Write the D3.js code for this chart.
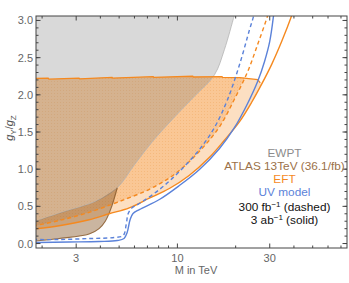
<!DOCTYPE html>
<html>
<head>
<meta charset="utf-8">
<script src="https://cdn.jsdelivr.net/npm/d3@7"></script>
<style>
body { margin: 0; background: #fff; }
svg { display: block; font-family: "Liberation Sans", Arial, sans-serif; }
</style>
</head>
<body>
<svg id="chart" width="349" height="283"></svg>
<script>
// values: M in TeV, g = gY/gZ
var ewptM = [1.8, 2.54, 3.8, 4.89, 6.0, 7.42, 9.65, 12.25, 15.55, 17.5, 19.7, 20.4];
var ewptG = [0.29, 0.42, 0.57, 0.75, 1.06, 1.37, 1.70, 1.98, 2.27, 2.61, 3.07, 3.2];

var atlasM = [1.8, 2.45, 3.5, 3.94, 4.24, 4.55, 4.89];
var atlasG = [0.03, 0.067, 0.128, 0.20, 0.30, 0.48, 0.75];

var eftTopM = [1.8, 2.15, 2.17, 3.1, 3.13, 4.6, 4.63, 7.5, 7.55, 12, 12.1, 17, 17.1, 21, 24, 26, 26.8];
var eftTopG = [2.22, 2.225, 2.21, 2.225, 2.215, 2.235, 2.225, 2.245, 2.235, 2.25, 2.24, 2.245, 2.235, 2.23, 2.215, 2.205, 2.16];

var eft3abM = [1.8, 2.45, 3.5, 4.44, 5.64, 7.16, 9.09, 11.5, 14.65, 17.5, 20.95, 24.2, 27.2, 30.7, 34.6, 39.0, 40.5];
var eft3abG = [0.195, 0.24, 0.32, 0.40, 0.48, 0.61, 0.74, 0.915, 1.16, 1.39, 1.64, 1.90, 2.14, 2.41, 2.72, 3.07, 3.2];

var eft300M = [1.8, 2.45, 3.5, 5.0, 7.16, 9.65, 13.0, 16.5, 19.7, 23.05, 26.0, 29.3, 30.2];
var eft300G = [0.235, 0.31, 0.42, 0.565, 0.73, 0.93, 1.24, 1.57, 1.94, 2.31, 2.68, 3.07, 3.2];

var uv300M = [1.8, 2.45, 3.5, 4.72, 5.25, 5.44, 5.57, 5.85, 6.36, 8.07, 10.24, 13.0, 15.55, 18.16, 20.95, 23.6, 24.8, 25.2];
var uv300G = [0.054, 0.054, 0.067, 0.081, 0.108, 0.256, 0.404, 0.484, 0.538, 0.726, 0.969, 1.265, 1.561, 1.937, 2.408, 2.879, 3.07, 3.2];

var uv3abM = [1.8, 2.76, 3.94, 4.89, 5.3, 5.5, 5.7, 5.9, 6.36, 8.07, 10.24, 13.0, 16.5, 19.74, 23.05, 25.97, 28.2, 30.0, 31.4, 31.8];
var uv3abG = [0.013, 0.02, 0.027, 0.04, 0.067, 0.148, 0.323, 0.404, 0.457, 0.592, 0.78, 0.996, 1.278, 1.561, 1.884, 2.179, 2.449, 2.718, 3.07, 3.2];

var xMajor = [3, 10, 30];
var xMinor = [2, 4, 5, 6, 7, 8, 9, 20, 40, 50, 60, 70];
var yMajor = [0, 0.5, 1, 1.5, 2, 2.5, 3];
var yMinor = d3.range(0, 3.01, 0.1);

var legendText = ['EWPT', 'ATLAS 13TeV (36.1/fb)', 'EFT', 'UV model'];
var legendColor = ['#8c8c8c', '#9b7148', '#f5891f', '#5b82d9'];

var L = 36, R = 347, T = 16, B = 248;
var orange = '#f5891f', blue = '#5b82d9', brown = '#8a5a2c';

var svg = d3.select('#chart');
var x = d3.scaleLog().domain([1.86, 75.2]).range([L, R]);
var y = d3.scaleLinear().domain([-0.06, 3.06]).range([B, T]);

function pts(ms, gs) { return ms.map((m, i) => [m, gs[i]]); }
var smooth = d3.line().x(d => x(d[0])).y(d => y(d[1])).curve(d3.curveCatmullRom.alpha(0.5));
var straight = d3.line().x(d => x(d[0])).y(d => y(d[1]));
function join(a, b) { return a + b.replace(/^M/, 'L'); }

var defs = svg.append('defs');
defs.append('clipPath').attr('id', 'plot')
    .append('rect').attr('x', L).attr('y', T).attr('width', R - L).attr('height', B - T);
var hatch = defs.append('pattern').attr('id', 'hatch').attr('patternUnits', 'userSpaceOnUse')
    .attr('width', 3).attr('height', 3);
hatch.append('rect').attr('x', 0).attr('y', 0).attr('width', 1).attr('height', 1)
    .attr('fill', '#e07a10').attr('fill-opacity', 0.18);

var g = svg.append('g').attr('clip-path', 'url(#plot)');

var eftTop = pts(eftTopM, eftTopG);
var ewpt = pts(ewptM, ewptG);
var atlas = pts(atlasM, atlasG);
var e3 = pts(eft3abM, eft3abG);
var e300 = pts(eft300M, eft300G);

// EFT 3 ab^-1 region: under top edge, above solid curve
var e3in = e3.filter(d => d[1] < 2.15).reverse();
g.append('path')
    .attr('d', join(straight(eftTop), smooth(e3in)) + 'Z')
    .attr('fill', orange).attr('fill-opacity', 0.27);

// EFT 300 fb^-1 region
var top300 = eftTop.filter(d => d[0] < 22);
var e300in = e300.filter(d => d[1] < 2.24).reverse();
var p300 = join(straight(top300), smooth([[22.3, 2.235]].concat(e300in))) + 'Z';
g.append('path').attr('d', p300).attr('fill', orange).attr('fill-opacity', 0.28);
g.append('path').attr('d', p300).attr('fill', 'url(#hatch)');

// EWPT excluded region
g.append('path')
    .attr('d', smooth(ewpt) + 'L' + x(20.4) + ',' + (T - 10) + 'L' + (L - 10) + ',' + (T - 10) + 'Z')
    .attr('fill', '#808080').attr('fill-opacity', 0.3);
g.append('path').attr('d', smooth(ewpt)).attr('fill', 'none')
    .attr('stroke', '#b4b4b4').attr('stroke-width', 0.8);

// ATLAS 13 TeV region, below EWPT edge
var ewptLow = ewpt.filter(d => d[0] <= 4.89).reverse();
g.append('path')
    .attr('d', join(smooth(atlas), smooth(ewptLow)) + 'Z')
    .attr('fill', brown).attr('fill-opacity', 0.45);
g.append('path').attr('d', smooth(atlas)).attr('fill', 'none')
    .attr('stroke', brown).attr('stroke-width', 1.1).attr('stroke-opacity', 0.85);

// contour lines
g.append('path').attr('d', straight(eftTop)).attr('fill', 'none')
    .attr('stroke', orange).attr('stroke-width', 1.3);
g.append('path').attr('d', smooth(e3)).attr('fill', 'none')
    .attr('stroke', orange).attr('stroke-width', 1.4);
g.append('path').attr('d', smooth(e300)).attr('fill', 'none')
    .attr('stroke', orange).attr('stroke-width', 1.4).attr('stroke-dasharray', '4,3');
g.append('path').attr('d', smooth(pts(uv300M, uv300G))).attr('fill', 'none')
    .attr('stroke', blue).attr('stroke-width', 1.4).attr('stroke-dasharray', '4,3');
g.append('path').attr('d', smooth(pts(uv3abM, uv3abG))).attr('fill', 'none')
    .attr('stroke', blue).attr('stroke-width', 1.4);

// frame and ticks
var frame = svg.append('g').attr('stroke', '#444').attr('stroke-width', 1);
frame.append('rect').attr('x', L).attr('y', T).attr('width', R - L).attr('height', B - T).attr('fill', 'none');
function xt(v, len) {
    frame.append('line').attr('x1', x(v)).attr('x2', x(v)).attr('y1', B).attr('y2', B - len);
    frame.append('line').attr('x1', x(v)).attr('x2', x(v)).attr('y1', T).attr('y2', T + len);
}
function yt(v, len) {
    frame.append('line').attr('y1', y(v)).attr('y2', y(v)).attr('x1', L).attr('x2', L + len);
    frame.append('line').attr('y1', y(v)).attr('y2', y(v)).attr('x1', R).attr('x2', R - len);
}
xMajor.forEach(v => xt(v, 4.5));
xMinor.forEach(v => xt(v, 2.5));
yMinor.forEach(v => yt(v, 2.5));
yMajor.forEach(v => yt(v, 4.5));

svg.append('g').selectAll('text').data(xMajor).enter().append('text')
    .attr('x', d => x(d)).attr('y', 262).attr('text-anchor', 'middle')
    .attr('font-size', 11).attr('fill', '#666').text(d => d);
svg.append('g').selectAll('text').data(yMajor).enter().append('text')
    .attr('x', 33).attr('y', d => y(d) + 4).attr('text-anchor', 'end')
    .attr('font-size', 11).attr('fill', '#666').text(d => d.toFixed(1));

svg.append('text').attr('x', 196).attr('y', 274).attr('text-anchor', 'middle')
    .attr('font-size', 11).attr('fill', '#666').text('M in TeV');

var yl = svg.append('text').attr('transform', 'translate(13,' + 128 + ') rotate(-90)')
    .attr('text-anchor', 'middle').attr('font-size', 11).attr('fill', '#555');
yl.append('tspan').attr('font-style', 'italic').text('g');
yl.append('tspan').attr('font-size', 8).attr('dy', 2.5).text('Y');
yl.append('tspan').attr('dy', -2.5).text('/');
yl.append('tspan').attr('font-style', 'italic').text('g');
yl.append('tspan').attr('font-size', 8).attr('dy', 2.5).text('Z');

// legend
var lx = 284.5;
svg.append('g').selectAll('text').data(legendText).enter().append('text')
    .attr('x', lx).attr('y', (d, i) => 157 + 13 * i).attr('text-anchor', 'middle')
    .attr('font-size', 11.8).attr('fill', (d, i) => legendColor[i]).text(d => d);

var l5 = svg.append('text').attr('x', lx).attr('y', 211).attr('text-anchor', 'middle')
    .attr('font-size', 11.8).attr('fill', '#111');
l5.append('tspan').text('300 fb');
l5.append('tspan').attr('font-size', 8).attr('dy', -4.5).text('−1');
l5.append('tspan').attr('dy', 4.5).text(' (dashed)');
var l6 = svg.append('text').attr('x', lx).attr('y', 224).attr('text-anchor', 'middle')
    .attr('font-size', 11.8).attr('fill', '#111');
l6.append('tspan').text('3 ab');
l6.append('tspan').attr('font-size', 8).attr('dy', -4.5).text('−1');
l6.append('tspan').attr('dy', 4.5).text(' (solid)');
</script>
</body>
</html>
